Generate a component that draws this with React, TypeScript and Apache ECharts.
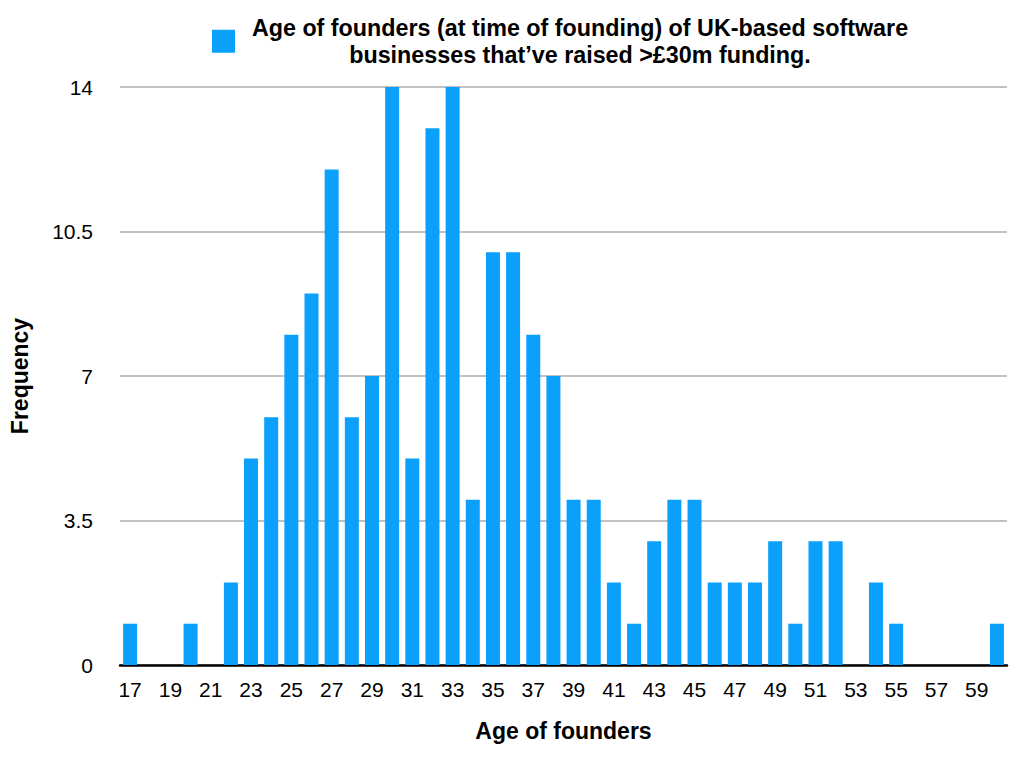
import React, { useEffect, useRef } from "react";
import * as echarts from "echarts";

const ages = [
  "17","18","19","20","21","22","23","24","25","26","27","28","29","30","31",
  "32","33","34","35","36","37","38","39","40","41","42","43","44","45","46",
  "47","48","49","50","51","52","53","54","55","56","57","58","59","60",
];
const frequency = [
  1,0,0,1,0,2,5,6,8,9,12,6,7,14,5,
  13,14,4,10,10,8,7,4,4,2,1,3,4,4,2,
  2,2,3,1,3,3,0,2,1,0,0,0,0,1,
];
const yTicks = [0, 3.5, 7, 10.5, 14];
const seriesName = "Age of founders (at time of founding) of UK-based software\nbusinesses that’ve raised >£30m funding.";

const FONT = "'Liberation Sans', Arial, Helvetica, sans-serif";

export default function App() {
  const ref = useRef<HTMLDivElement>(null);
  useEffect(() => {
    if (!ref.current) return;
    const chart = echarts.init(ref.current, undefined, { renderer: "svg" });
    chart.setOption({
      animation: false,
      textStyle: { fontFamily: FONT },
      legend: {
        top: 11,
        left: 207,
        itemWidth: 23,
        itemHeight: 23,
        itemGap: 10,
        icon: "rect",
        formatter: (name: string) => "{t|" + name + "}",
        textStyle: {
          padding: [0, 0, 0, 8],
          rich: {
            t: {
              fontFamily: FONT,
              fontSize: 23.3,
              fontWeight: "bold",
              color: "#000",
              width: 664,
              align: "center",
              lineHeight: 27.5,
            },
          },
        },
      },
      grid: { left: 117, right: 17, top: 87, bottom: 97, containLabel: false },
      xAxis: {
        type: "category",
        data: ages,
        name: "Age of founders",
        nameLocation: "middle",
        nameGap: 54,
        nameTextStyle: { fontFamily: FONT, fontSize: 23, fontWeight: "bold", color: "#000" },
        axisLine: { lineStyle: { color: "#000", width: 2.5 } },
        axisTick: { show: false },
        axisLabel: { interval: 1, fontFamily: FONT, fontSize: 21, color: "#000", margin: 14 },
      },
      yAxis: {
        type: "value",
        min: yTicks[0],
        max: yTicks[yTicks.length - 1],
        interval: 3.5,
        name: "Frequency",
        nameLocation: "middle",
        nameGap: 89,
        nameRotate: 90,
        nameTextStyle: { fontFamily: FONT, fontSize: 23, fontWeight: "bold", color: "#000" },
        axisLine: { show: false },
        axisTick: { show: false },
        axisLabel: { fontFamily: FONT, fontSize: 21, color: "#000", margin: 27 },
        splitLine: { lineStyle: { color: "#adadad", width: 1.5 } },
      },
      series: [
        {
          name: seriesName,
          type: "bar",
          data: frequency,
          barWidth: 14,
          itemStyle: { color: "#0aa0fc" },
        },
      ],
    });
    return () => chart.dispose();
  }, []);
  return <div ref={ref} style={{ width: 1024, height: 762, position: "absolute", left: 0, top: 0 }} />;
}
